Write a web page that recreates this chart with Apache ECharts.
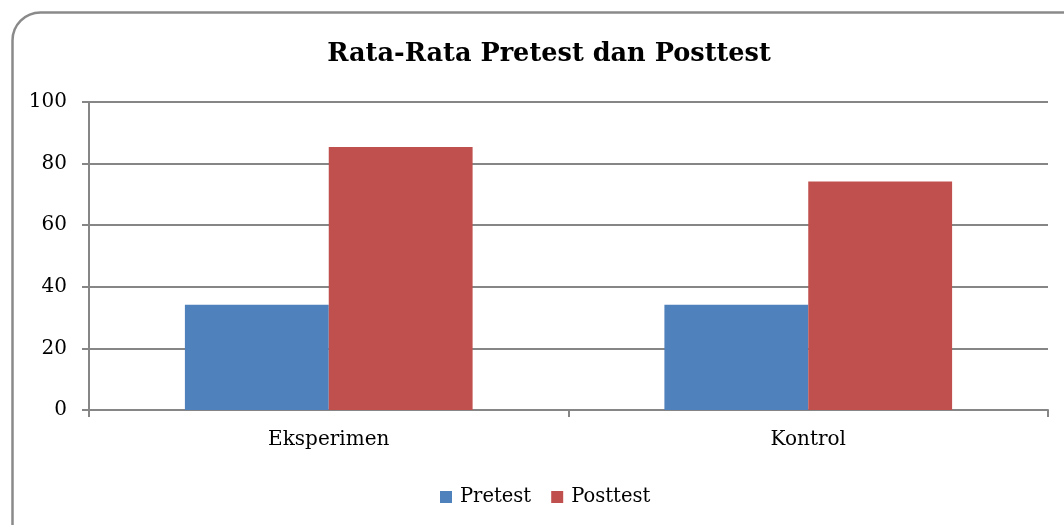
<!DOCTYPE html>
<html>
<head>
<meta charset="utf-8">
<script src="https://cdn.jsdelivr.net/npm/echarts@6/dist/echarts.min.js"></script>
<style>
html,body{margin:0;padding:0;background:#fff;}
#c{width:1064px;height:525px;}
</style>
</head>
<body>
<div id="c"></div>
<script>
const categories = ['Eksperimen', 'Kontrol'];
const pretest = [34.2, 34.2];
const posttest = [85.4, 74.2];
const yTicks = [0, 20, 40, 60, 80, 100];

const FONT = 'DejaVu Serif';
const chart = echarts.init(document.getElementById('c'));
chart.setOption({
  animation: false,
  backgroundColor: '#fff',
  graphic: [{
    type: 'rect',
    left: 10, top: 10,
    shape: { width: 1090, height: 540, r: 28 },
    style: { fill: 'none', stroke: '#8a8a8a', lineWidth: 2.5 },
    silent: true, z: -1
  }],
  title: {
    text: 'Rata-Rata Pretest dan Posttest',
    left: 544, top: 36, textAlign: 'center',
    textStyle: { fontFamily: FONT, fontWeight: 'bold', fontSize: 25.6, color: '#000' }
  },
  legend: {
    data: ['Pretest', 'Posttest'],
    left: 435, top: 482,
    itemWidth: 12, itemHeight: 12, itemGap: 20,
    icon: 'rect',
    textStyle: { fontFamily: FONT, fontSize: 19.5, color: '#000', padding: [0, 0, 0, 3] }
  },
  grid: { left: 89, right: 16, top: 102, bottom: 115, containLabel: false },
  xAxis: {
    type: 'category',
    data: categories,
    axisLine: { show: true, lineStyle: { color: '#868686', width: 2 } },
    axisTick: { show: true, alignWithLabel: false, length: 7, lineStyle: { color: '#868686', width: 2 } },
    axisLabel: { fontFamily: FONT, fontSize: 20, color: '#000', margin: 20 }
  },
  yAxis: {
    type: 'value',
    min: 0, max: 100, interval: 20,
    axisLine: { show: true, lineStyle: { color: '#868686', width: 2 } },
    axisTick: { show: true, length: 7, lineStyle: { color: '#868686', width: 2 } },
    axisLabel: {
      fontFamily: FONT, fontSize: 20, color: '#000', margin: 22,
      formatter: v => yTicks.includes(v) ? String(v) : ''
    },
    splitLine: { show: true, lineStyle: { color: '#868686', width: 2 } }
  },
  series: [
    {
      name: 'Pretest', type: 'bar', data: pretest,
      barGap: '0%', barCategoryGap: '40%',
      itemStyle: { color: '#4f81bd' }
    },
    {
      name: 'Posttest', type: 'bar', data: posttest,
      barGap: '0%', barCategoryGap: '40%',
      itemStyle: { color: '#c0504d' }
    }
  ]
});
</script>
</body>
</html>
